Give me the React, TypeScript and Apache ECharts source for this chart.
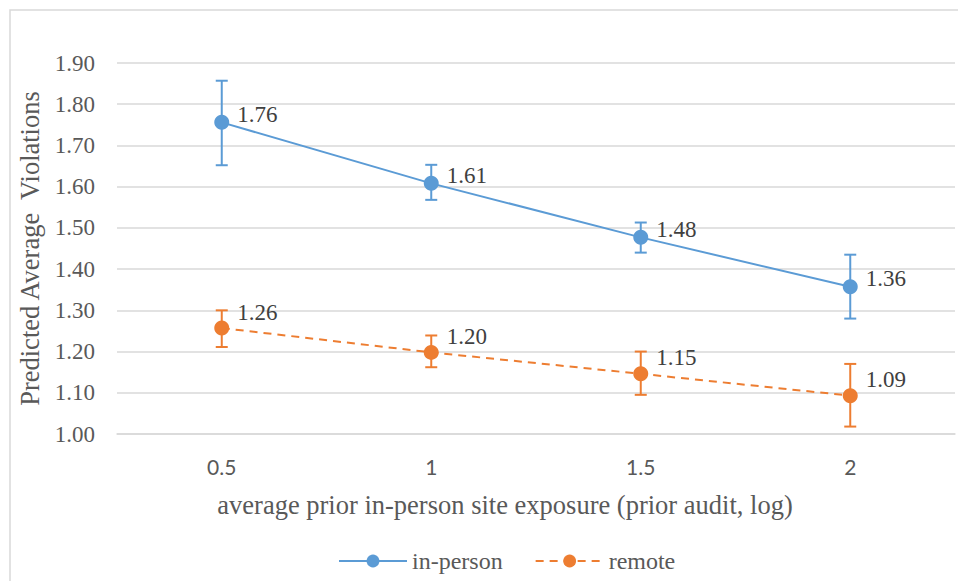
import React, { useEffect, useRef } from "react";
import * as echarts from "echarts";

const categories = ["0.5", "1", "1.5", "2"];
const inPerson = [1.756, 1.608, 1.477, 1.357];
const inPersonLow = [1.652, 1.568, 1.44, 1.28];
const inPersonHigh = [1.857, 1.653, 1.513, 1.435];
const remote = [1.257, 1.198, 1.146, 1.093];
const remoteLow = [1.211, 1.162, 1.095, 1.018];
const remoteHigh = [1.3, 1.239, 1.2, 1.17];
const yTicks = { min: 1.0, max: 1.9, interval: 0.1 };

const BLUE = "#5B9BD5";
const ORANGE = "#ED7D31";
const SERIF = "'Liberation Serif', 'Times New Roman', serif";
const SANS = "Lato, 'Liberation Sans', sans-serif";

function errSeries(name: string, low: number[], high: number[], color: string) {
  return {
    type: "custom",
    name,
    z: 3,
    data: categories.map((_, i) => [i, low[i], high[i]]),
    renderItem: (params: any, api: any) => {
      const x = api.value(0);
      const lo = api.coord([x, api.value(1)]);
      const hi = api.coord([x, api.value(2)]);
      const cap = 6;
      const style = { stroke: color, lineWidth: 2 };
      return {
        type: "group",
        children: [
          { type: "line", shape: { x1: lo[0], y1: lo[1], x2: hi[0], y2: hi[1] }, style },
          { type: "line", shape: { x1: lo[0] - cap, y1: lo[1], x2: lo[0] + cap, y2: lo[1] }, style },
          { type: "line", shape: { x1: hi[0] - cap, y1: hi[1], x2: hi[0] + cap, y2: hi[1] }, style },
        ],
      };
    },
    silent: true,
  };
}

export default function App() {
  const ref = useRef<HTMLDivElement>(null);
  useEffect(() => {
    if (!ref.current) return;
    const chart = echarts.init(ref.current, null, { renderer: "svg" });
    const labelStyle = (offsetY: number) => ({
      show: true,
      position: "right",
      distance: 6,
      offset: [2, offsetY],
      formatter: (p: any) => Number(p.value).toFixed(2),
      fontFamily: SERIF,
      fontSize: 23,
      color: "#404040",
    });
    chart.setOption({
      animation: false,
      backgroundColor: "#ffffff",
      graphic: [
        {
          type: "rect",
          shape: { x: 10, y: 10, width: 1000, height: 700 },
          style: { fill: "none", stroke: "#d9d9d9", lineWidth: 1.5 },
          silent: true,
          z: -1,
        },
      ],
      grid: { left: 117, right: 3, top: 63, bottom: 147 },
      legend: {
        data: ["in-person", "remote"],
        bottom: 3,
        left: 333,
        itemWidth: 68,
        itemHeight: 16,
        itemGap: 32,
        textStyle: { fontFamily: SERIF, fontSize: 24, color: "#595959" },
      },
      xAxis: {
        type: "category",
        data: categories,
        boundaryGap: true,
        axisLine: { show: true, lineStyle: { color: "#d9d9d9", width: 1.5 } },
        axisTick: { show: false },
        axisLabel: { fontFamily: SANS, fontSize: 21, color: "#595959", margin: 22 },
        name: "average prior in-person site exposure (prior audit, log)",
        nameLocation: "middle",
        nameGap: 57,
        nameTextStyle: {
          fontFamily: SERIF,
          fontSize: 26.5,
          color: "#595959",
          padding: [0, 62, 0, 0],
        },
      },
      yAxis: {
        type: "value",
        min: yTicks.min,
        max: yTicks.max,
        interval: yTicks.interval,
        axisLine: { show: false },
        axisTick: { show: false },
        splitLine: { lineStyle: { color: "#d9d9d9", width: 1.5 } },
        axisLabel: {
          fontFamily: SERIF,
          fontSize: 23,
          color: "#595959",
          margin: 22,
          formatter: (v: number) => v.toFixed(2),
        },
        name: "Predicted Average  Violations",
        nameLocation: "middle",
        nameGap: 70,
        nameTextStyle: { fontFamily: SERIF, fontSize: 26.5, color: "#595959" },
      },
      series: [
        errSeries("err-in-person", inPersonLow, inPersonHigh, BLUE),
        errSeries("err-remote", remoteLow, remoteHigh, ORANGE),
        {
          name: "in-person",
          type: "line",
          data: inPerson,
          z: 4,
          symbol: "circle",
          symbolSize: 15,
          itemStyle: { color: BLUE },
          lineStyle: { color: BLUE, width: 2 },
          label: labelStyle(-8),
        },
        {
          name: "remote",
          type: "line",
          data: remote,
          z: 4,
          symbol: "circle",
          symbolSize: 15,
          itemStyle: { color: ORANGE },
          lineStyle: { color: ORANGE, width: 2, type: [8, 6] },
          label: labelStyle(-16),
        },
      ],
    });
    return () => chart.dispose();
  }, []);
  return (
    <div
      ref={ref}
      style={{ position: "fixed", left: 0, top: 0, width: 958, height: 581 }}
    />
  );
}
